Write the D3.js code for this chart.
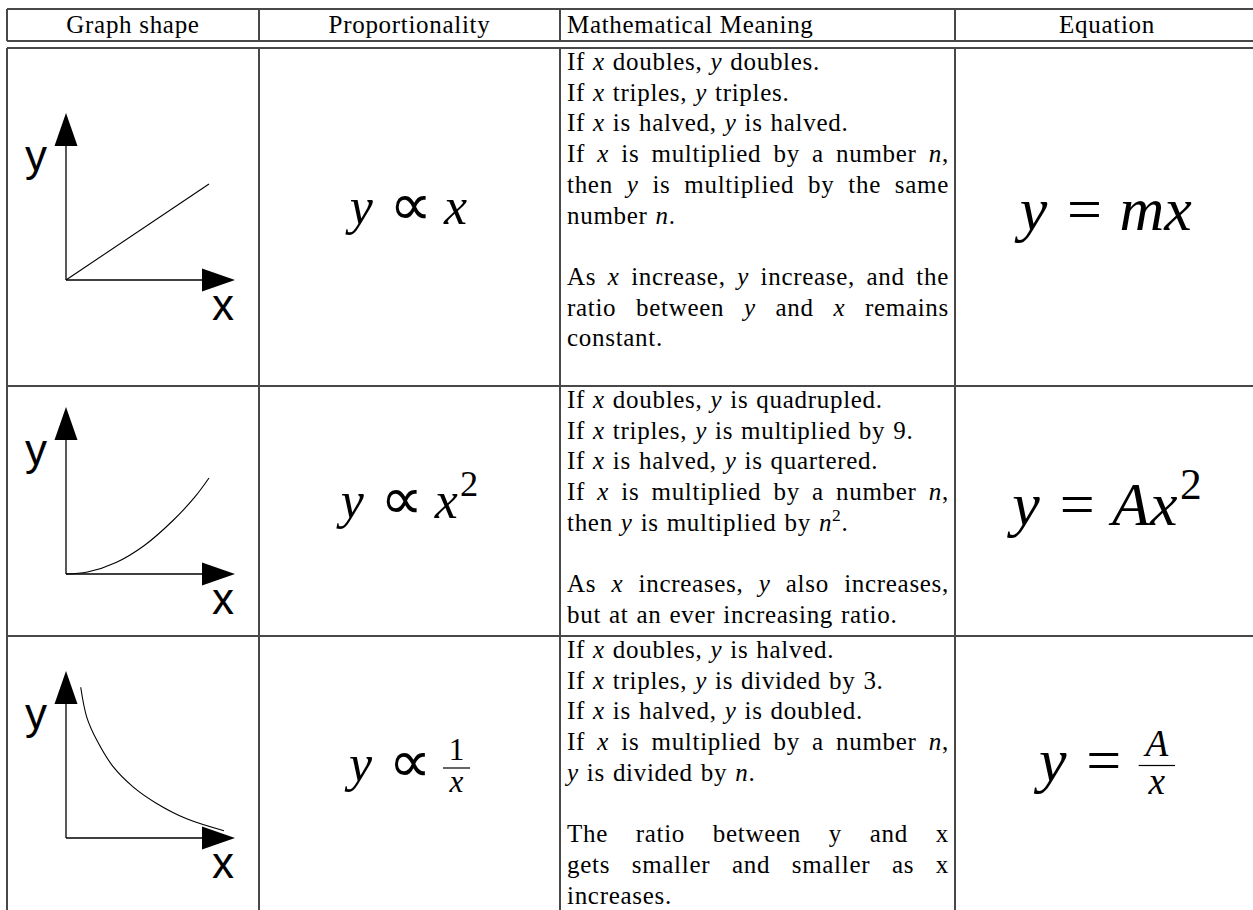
<!DOCTYPE html>
<meta charset="utf-8">
<html lang="en">
<head>
<title>Proportionality table</title>
<script src="https://d3js.org/d3.v7.min.js"></script>
<style>
  html, body { margin: 0; padding: 0; background: #fff; }
</style>
</head>
<body>
<div id="chart"></div>
<script>
// table content
const headers = ["Graph shape", "Proportionality", "Mathematical Meaning", "Equation"];

// $..$ = math italic, ^ = next char superscript; second item = justified line
const meaning1 = [
  ["If $x$ doubles, $y$ doubles.", 0],
  ["If $x$ triples, $y$ triples.", 0],
  ["If $x$ is halved, $y$ is halved.", 0],
  ["If $x$ is multiplied by a number $n$,", 1],
  ["then $y$ is multiplied by the same", 1],
  ["number $n$.", 0],
  ["", 0],
  ["As $x$ increase, $y$ increase, and the", 1],
  ["ratio between $y$ and $x$ remains", 1],
  ["constant.", 0]
];
const meaning2 = [
  ["If $x$ doubles, $y$ is quadrupled.", 0],
  ["If $x$ triples, $y$ is multiplied by 9.", 0],
  ["If $x$ is halved, $y$ is quartered.", 0],
  ["If $x$ is multiplied by a number $n$,", 1],
  ["then $y$ is multiplied by $n$^2.", 0],
  ["", 0],
  ["As $x$ increases, $y$ also increases,", 1],
  ["but at an ever increasing ratio.", 0]
];
const meaning3 = [
  ["If $x$ doubles, $y$ is halved.", 0],
  ["If $x$ triples, $y$ is divided by 3.", 0],
  ["If $x$ is halved, $y$ is doubled.", 0],
  ["If $x$ is multiplied by a number $n$,", 1],
  ["$y$ is divided by $n$.", 0],
  ["", 0],
  ["The ratio between y and x", 1],
  ["gets smaller and smaller as x", 1],
  ["increases.", 0]
];

// formulas as token lists
const props = [
  [{t: "y", it: 1}, {t: "∝", op: 1}, {t: "x", it: 1}],
  [{t: "y", it: 1}, {t: "∝", op: 1}, {t: "x", it: 1}, {t: "2", sup: 1}],
  [{t: "y", it: 1}, {t: "∝", op: 1}, {num: "1", den: "x"}]
];
const equations = [
  [{t: "y", it: 1}, {t: "=", op: 1}, {t: "mx", it: 1}],
  [{t: "y", it: 1}, {t: "=", op: 1}, {t: "Ax", it: 1}, {t: "2", sup: 1}],
  [{t: "y", it: 1}, {t: "=", op: 1}, {num: "A", den: "x", numIt: 1}]
];

// curve points (x unit = end of straight line)
const linePts = [[0, 0], [1, 1]];
const squarePts = [[0, 0], [0.15, 0.02], [0.35, 0.12], [0.55, 0.3], [0.75, 0.56], [0.9, 0.8], [1, 1]];
const inversePts = [[0.103, 1.57], [0.145, 1.26], [0.215, 1.02], [0.331, 0.74], [0.471, 0.53],
                    [0.634, 0.36], [0.844, 0.2], [1.105, 0.076]];

const W = 1253, H = 910;
const colX = [7, 259, 560, 955, 1259];
const headTop = 9, headBot = 41, bodyTop = 48;
const rowY = [48, 386, 636, 914];
const FS = 25, LS = 0.7, LEAD = 30.7;
const textL = 567, textR = 949;
const SERIF = "'Liberation Serif', 'Times New Roman', 'DejaVu Serif', serif";
const SANS = "'Liberation Sans', Arial, 'DejaVu Sans', sans-serif";

const svg = d3.select("#chart").append("svg")
    .attr("width", W).attr("height", H)
    .style("display", "block");
svg.append("rect").attr("width", W).attr("height", H).attr("fill", "#fff");

const grid = svg.append("g").attr("stroke", "#484848").attr("stroke-width", 1.3).attr("shape-rendering", "crispEdges");
// horizontal rules
[headTop, headBot, bodyTop, rowY[1], rowY[2], rowY[3]].forEach(y => {
  grid.append("line").attr("x1", colX[0]).attr("x2", colX[4]).attr("y1", y).attr("y2", y);
});
// vertical rules (broken in the double-rule gap)
colX.forEach(x => {
  grid.append("line").attr("x1", x).attr("x2", x).attr("y1", headTop).attr("y2", headBot);
  grid.append("line").attr("x1", x).attr("x2", x).attr("y1", bodyTop).attr("y2", rowY[3]);
});

// words with italic / superscript runs
function parseRuns(word) {
  const runs = [];
  let it = false;
  for (let i = 0; i < word.length; i++) {
    const c = word[i];
    if (c === "$") { it = !it; continue; }
    if (c === "^") { runs.push({t: word[i + 1], it: it, sup: true}); i++; continue; }
    const last = runs[runs.length - 1];
    if (last && last.it === it && !last.sup) last.t += c;
    else runs.push({t: c, it: it, sup: false});
  }
  return runs;
}

function drawWord(g, word, fs) {
  const t = g.append("text").attr("font-family", SERIF).attr("fill", "#000")
      .attr("font-size", fs).attr("letter-spacing", LS);
  let raised = false;
  parseRuns(word).forEach(r => {
    const ts = t.append("tspan").text(r.t).attr("font-style", r.it ? "italic" : "normal");
    if (r.sup) { ts.attr("font-size", fs * 0.7).attr("dy", -fs * 0.38); raised = true; }
    else if (raised) { ts.attr("dy", fs * 0.38); raised = false; }
  });
  return t;
}

function drawLine(g, str, y, justify) {
  if (!str) return;
  const words = str.split(" ");
  const nodes = words.map(w => drawWord(g, w, FS));
  const widths = nodes.map(n => n.node().getComputedTextLength());
  const total = d3.sum(widths);
  const gap = justify && words.length > 1 ? (textR - textL - total) / (words.length - 1) : FS * 0.32;
  let x = textL;
  nodes.forEach((n, i) => {
    n.attr("transform", `translate(${x},${y})`);
    x += widths[i] + gap;
  });
}

// header
const headCx = [(colX[0] + colX[1]) / 2, (colX[1] + colX[2]) / 2, null, (colX[3] + colX[4]) / 2];
headers.forEach((h, i) => {
  svg.append("text").attr("font-family", SERIF).attr("font-size", FS).attr("letter-spacing", LS)
      .attr("x", i === 2 ? textL : headCx[i]).attr("y", 33)
      .attr("text-anchor", i === 2 ? "start" : "middle")
      .text(h);
});

// meaning column
[meaning1, meaning2, meaning3].forEach((lines, r) => {
  const g = svg.append("g");
  lines.forEach((l, k) => drawLine(g, l[0], rowY[r] + 22 + k * LEAD, l[1]));
});

// formulas
function drawMath(tokens, cx, base, fs) {
  const g = svg.append("g");
  let x = 0;
  const opGap = fs * 0.28;
  tokens.forEach(tok => {
    if (tok.num) {
      const fs2 = fs * 0.6, axis = fs * 0.25;
      const nt = g.append("text").attr("font-family", SERIF).attr("font-size", fs2)
          .attr("font-style", tok.numIt ? "italic" : "normal").attr("text-anchor", "middle").text(tok.num);
      const dt = g.append("text").attr("font-family", SERIF).attr("font-size", fs2)
          .attr("font-style", "italic").attr("text-anchor", "middle").text(tok.den);
      const w = Math.max(nt.node().getComputedTextLength(), dt.node().getComputedTextLength()) + fs * 0.22;
      const mid = x + w / 2;
      nt.attr("x", mid).attr("y", -axis - fs * 0.15);
      dt.attr("x", mid).attr("y", -axis + fs * 0.19 + fs2 * 0.46);
      g.append("rect").attr("x", x).attr("y", -axis - 0.6).attr("width", w).attr("height", 1.2).attr("fill", "#000");
      x += w;
      return;
    }
    if (tok.op) x += opGap;
    const isProp = tok.op && tok.t === "∝";
    const t = g.append("text").attr("x", x)
        .attr("font-family", isProp ? "'DejaVu Sans', sans-serif" : SERIF)
        .attr("font-size", tok.sup ? fs * 0.7 : isProp ? fs * 1.15 : fs)
        .attr("y", tok.sup ? -fs * 0.42 : isProp ? fs * 0.02 : 0)
        .attr("font-style", tok.it ? "italic" : "normal")
        .text(tok.t);
    x += t.node().getComputedTextLength() + (tok.it ? fs * 0.04 : 0);
    if (tok.op) x += opGap * (isProp ? 0.8 : 1);
  });
  g.attr("transform", `translate(${cx - x / 2},${base})`);
}

const propBase = [224, 518, 781], eqBase = [230, 525, 781];
props.forEach((p, i) => drawMath(p, headCx[1], propBase[i], 52));
equations.forEach((e, i) => drawMath(e, headCx[3], eqBase[i], 62));

// small graphs
const curves = [linePts, squarePts, inversePts];
const AX = 169, AY = 167, HEAD = 33, HALF = 11.5;
curves.forEach((pts, i) => {
  const oy = (rowY[i] + rowY[i + 1]) / 2 + 63, ox = 66;
  const gx = d3.scaleLinear().domain([0, 1]).range([ox, ox + 143]);
  const gy = d3.scaleLinear().domain([0, 1]).range([oy, oy - 96]);
  const g = svg.append("g");
  g.append("line").attr("x1", ox).attr("y1", oy).attr("x2", ox).attr("y2", oy - AY + HEAD)
      .attr("stroke", "#000").attr("stroke-width", 1.3);
  g.append("line").attr("x1", ox).attr("y1", oy).attr("x2", ox + AX - HEAD).attr("y2", oy)
      .attr("stroke", "#000").attr("stroke-width", 1.3);
  g.append("path").attr("fill", "#000")
      .attr("d", `M${ox},${oy - AY}L${ox - HALF},${oy - AY + HEAD}L${ox + HALF},${oy - AY + HEAD}Z`);
  g.append("path").attr("fill", "#000")
      .attr("d", `M${ox + AX},${oy}L${ox + AX - HEAD},${oy - HALF}L${ox + AX - HEAD},${oy + HALF}Z`);
  const line = d3.line().x(d => gx(d[0])).y(d => gy(d[1]))
      .curve(pts.length > 2 ? d3.curveCatmullRom : d3.curveLinear);
  g.append("path").datum(pts).attr("d", line)
      .attr("fill", "none").attr("stroke", "#000").attr("stroke-width", 1.1);
  g.append("text").attr("font-family", SANS).attr("font-size", 44).attr("x", 25).attr("y", oy - 109).text("y");
  g.append("text").attr("font-family", SANS).attr("font-size", 44).attr("x", 212).attr("y", oy + 40).text("x");
});
</script>
</body>
</html>
